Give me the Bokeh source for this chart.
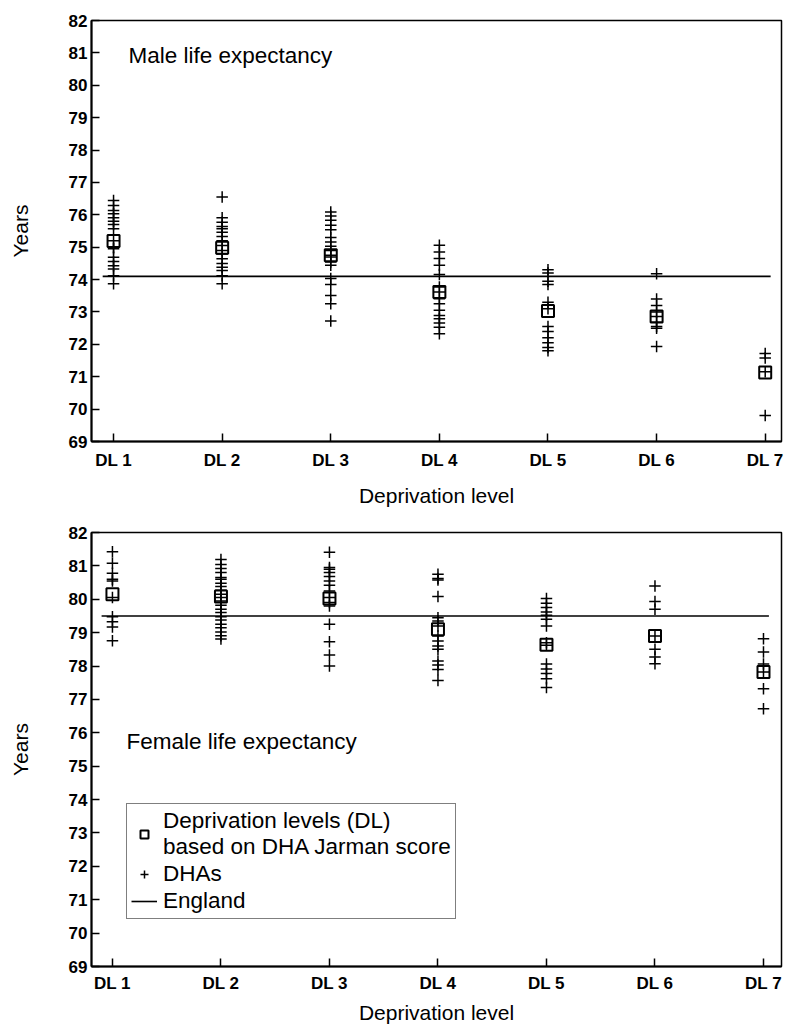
from bokeh.plotting import figure
from bokeh.models import FixedTicker, Legend, LegendItem, Label, Range1d
from bokeh.layouts import column
from bokeh.embed import file_html
from bokeh.resources import INLINE

# ---------------- data ----------------
levels = [1, 2, 3, 4, 5, 6, 7]
level_labels = ["DL 1", "DL 2", "DL 3", "DL 4", "DL 5", "DL 6", "DL 7"]
y_ticks = list(range(69, 83))

# Male DHA life expectancies per deprivation level
male_dl1 = [76.44, 76.29, 76.13, 76.03, 75.91, 75.80, 75.70, 75.57, 75.20, 75.00, 74.95, 74.69, 74.56, 74.43, 74.33, 74.12, 73.87]
male_dl2 = [76.55, 75.91, 75.77, 75.64, 75.57, 75.46, 75.33, 75.20, 75.05, 74.90, 74.79, 74.64, 74.50, 74.38, 74.28, 74.12, 73.87]
male_dl3 = [76.09, 75.96, 75.83, 75.68, 75.54, 75.30, 75.16, 75.03, 74.90, 74.75, 74.70, 74.54, 74.44, 74.03, 73.85, 73.51, 73.25, 72.72]
male_dl4 = [75.06, 74.85, 74.65, 74.44, 74.16, 73.77, 73.62, 73.41, 73.25, 73.05, 72.89, 72.79, 72.66, 72.53, 72.33]
male_dl5 = [74.30, 74.20, 73.95, 73.85, 73.30, 73.10, 72.55, 72.40, 72.20, 72.05, 71.90, 71.80]
male_dl6 = [74.18, 73.40, 73.20, 73.00, 72.86, 72.68, 72.55, 72.50, 71.93]
male_dl7 = [71.72, 71.58, 71.15, 69.80]
male_dl_mean = [75.19, 74.98, 74.75, 73.62, 73.03, 72.86, 71.13]
male_england = 74.1

# Female DHA life expectancies per deprivation level
female_dl1 = [81.42, 81.08, 80.78, 80.60, 80.55, 80.05, 79.48, 79.33, 79.17, 78.76]
female_dl2 = [81.19, 81.04, 80.92, 80.80, 80.65, 80.60, 80.48, 80.38, 80.27, 80.15, 80.05, 79.95, 79.82, 79.70, 79.60, 79.48, 79.38, 79.25, 79.15, 79.02, 78.91, 78.81]
female_dl3 = [81.41, 80.95, 80.90, 80.80, 80.68, 80.55, 80.42, 80.25, 80.05, 79.90, 79.80, 79.25, 78.73, 78.33, 78.00]
female_dl4 = [80.75, 80.62, 80.58, 80.08, 79.45, 79.35, 79.20, 78.90, 78.75, 78.60, 78.50, 78.15, 78.03, 77.90, 77.57]
female_dl5 = [80.02, 79.88, 79.75, 79.62, 79.52, 79.40, 79.20, 78.70, 78.62, 78.06, 77.91, 77.78, 77.62, 77.36]
female_dl6 = [80.40, 79.93, 79.70, 78.90, 78.50, 78.27, 78.07]
female_dl7 = [78.82, 78.42, 78.06, 77.82, 77.32, 76.72]
female_dl_mean = [80.15, 80.08, 80.02, 79.10, 78.64, 78.90, 77.82]
female_england = 79.5

england_x = [0.9, 7.05]

male_dhas = [male_dl1, male_dl2, male_dl3, male_dl4, male_dl5, male_dl6, male_dl7]
female_dhas = [female_dl1, female_dl2, female_dl3, female_dl4, female_dl5, female_dl6, female_dl7]

FONT = "Liberation Sans"


def flatten(groups):
    xs, ys = [], []
    for lv, vals in zip(levels, groups):
        xs += [lv] * len(vals)
        ys += vals
    return xs, ys


def make_panel(height, b_top, b_bottom, b_left, b_right, x_start, x_end,
               dhas, means, england, tick_standoff, label_standoff):
    p = figure(width=785, height=height, output_backend="svg", toolbar_location=None,
               x_range=Range1d(x_start, x_end), y_range=Range1d(69, 82),
               min_border_top=b_top, min_border_bottom=b_bottom,
               min_border_left=b_left, min_border_right=b_right)
    p.xgrid.visible = False
    p.ygrid.visible = False
    p.outline_line_color = "black"
    p.outline_line_width = 1.5
    p.background_fill_color = "white"
    p.border_fill_color = "white"

    for ax in (p.xaxis[0], p.yaxis[0]):
        ax.axis_line_width = 2
        ax.axis_line_color = "black"
        ax.major_tick_in = 8
        ax.major_tick_out = 0
        ax.major_tick_line_width = 1.5
        ax.minor_tick_in = 0
        ax.minor_tick_out = 0
        ax.major_label_text_font = FONT
        ax.major_label_text_font_style = "bold"
        ax.major_label_text_font_size = "17px"
        ax.major_label_text_color = "black"
        ax.axis_label_text_font = FONT
        ax.axis_label_text_font_style = "normal"
        ax.axis_label_text_font_size = "21px"
        ax.axis_label_text_color = "black"

    p.yaxis.ticker = FixedTicker(ticks=y_ticks)
    p.yaxis.axis_label = "Years"
    p.yaxis.major_label_standoff = 4
    p.yaxis.axis_label_standoff = 34

    p.xaxis.ticker = FixedTicker(ticks=levels)
    p.xaxis.major_label_overrides = {lv: lab for lv, lab in zip(levels, level_labels)}
    p.xaxis.axis_label = "Deprivation level"
    p.xaxis.major_label_standoff = tick_standoff
    p.xaxis.axis_label_standoff = label_standoff

    xs, ys = flatten(dhas)
    line_r = p.line(england_x, [england, england], line_color="black", line_width=1.6)
    plus_r = p.scatter(xs, ys, marker="cross", size=11.5, line_color="black", line_width=1.5)
    sq_r = p.scatter(levels, means, marker="square", size=12, line_color="black",
                     line_width=2, fill_alpha=0)
    return p, sq_r, plus_r, line_r


top, _, _, _ = make_panel(515, 20, 74, 91, 2, 0.797, 7.15,
                          male_dhas, male_dl_mean, male_england, 9, 11)
top.add_layout(Label(x=1.137, y=80.92, text="Male life expectancy", text_font=FONT,
                     text_font_size="22.5px", text_baseline="middle", text_color="black"))

bottom, sq_r, plus_r, line_r = make_panel(511, 17, 58, 89, 4, 0.807, 7.166,
                                          female_dhas, female_dl_mean, female_england, 7, 5)
bottom.add_layout(Label(x=1.13, y=75.75, text="Female life expectancy", text_font=FONT,
                        text_font_size="22.5px", text_baseline="middle", text_color="black"))

legend = Legend(items=[
    LegendItem(label="Deprivation levels (DL)\nbased on DHA Jarman score", renderers=[sq_r]),
    LegendItem(label="DHAs", renderers=[plus_r]),
    LegendItem(label="England", renderers=[line_r]),
], location=(35, 47), margin=0, padding=4, spacing=1, glyph_width=26, label_standoff=6,
    border_line_color="black", border_line_width=1.5, background_fill_color="white",
    background_fill_alpha=1.0, label_text_font=FONT, label_text_font_size="22.5px",
    label_text_color="black")
bottom.add_layout(legend)

layout = column(top, bottom, spacing=0)

open("out.html", "w").write(file_html(layout, INLINE))
